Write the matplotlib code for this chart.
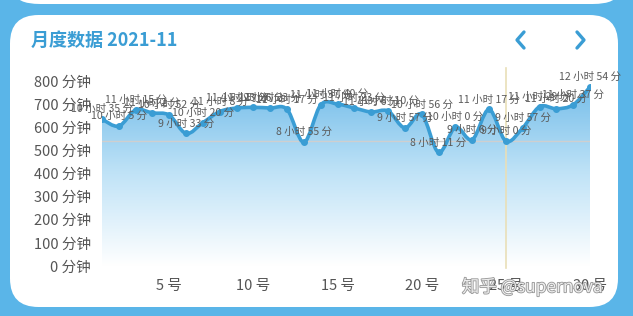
import matplotlib
matplotlib.use("Agg")
import matplotlib.pyplot as plt
import numpy as np
from matplotlib.patches import FancyBboxPatch, PathPatch
from matplotlib.path import Path
from matplotlib.lines import Line2D
from matplotlib.colors import LinearSegmentedColormap
import matplotlib.patheffects as pe

plt.rcParams['font.family'] = ['Noto Sans CJK SC', 'DejaVu Sans']

# --------------------------------------------------
# Data (minutes per day, November 2021)
# --------------------------------------------------
days = list(range(1, 31))
minutes = [635, 605, 675, 662, 652, 573, 620, 668, 683, 686,
           683, 677, 535, 697, 700, 683, 666, 670, 597, 656,
           491, 600, 546, 677, 540, 597, 689, 680, 697, 774]
y_ticks = [0, 100, 200, 300, 400, 500, 600, 700, 800]
x_ticks = [5, 10, 15, 20, 25, 30]
selected_day = 25
title = "月度数据 2021-11"

blue = '#3a9dd4'
outer = '#5ab5e8'
W, H = 633, 316

fig = plt.figure(figsize=(W / 100, H / 100), dpi=100)
fig.patch.set_facecolor(outer)

def fx(px):
    return px / W

def fy(py):
    return 1 - py / H

# cards
card_top = FancyBboxPatch((fx(15), fy(4)), fx(603), 0.2,
                          boxstyle="round,pad=0,rounding_size=0.04",
                          transform=fig.transFigure, facecolor='white',
                          edgecolor='none', zorder=-2)
fig.patches.append(card_top)
card = FancyBboxPatch((fx(10), fy(307)), fx(608), fy(15) - fy(307),
                      boxstyle="round,pad=0,rounding_size=0.045",
                      transform=fig.transFigure, facecolor='white',
                      edgecolor='none', zorder=-2, mutation_aspect=W / H)
fig.patches.append(card)

# title + arrows
fig.text(fx(31), fy(40), title, color=blue, fontsize=13,
         fontweight='bold', ha='left', va='center')
for xs in ([524, 517, 524], [577, 584, 577]):
    fig.add_artist(Line2D([fx(v) for v in xs], [fy(32), fy(40), fy(48)],
                          color=blue, lw=2.4, solid_capstyle='round',
                          solid_joinstyle='round', transform=fig.transFigure))

# --------------------------------------------------
# Chart axes
# --------------------------------------------------
ax = fig.add_axes([fx(102), fy(266), fx(590) - fx(102), fy(81) - fy(266)])
ax.set_facecolor('none')
ax.set_xlim(1, 30)
ax.set_ylim(0, 800)
for s in ax.spines.values():
    s.set_visible(False)

ax.set_yticks(y_ticks)
ax.set_yticklabels([f"{v} 分钟" for v in y_ticks])
ax.set_xticks(x_ticks)
ax.set_xticklabels([f"{d} 号" for d in x_ticks])
ax.tick_params(length=0, labelsize=10.5, colors='#555555')
ax.tick_params(axis='y', pad=8)
ax.tick_params(axis='x', pad=9)

# smooth bezier path through the points
x = np.array(days, dtype=float)
y = np.array(minutes, dtype=float)
n = len(x)
verts = [(x[0], y[0])]
codes = [Path.MOVETO]
s = 1 / 6
for i in range(n - 1):
    p0 = np.array([x[max(i - 1, 0)], y[max(i - 1, 0)]])
    p1 = np.array([x[i], y[i]])
    p2 = np.array([x[i + 1], y[i + 1]])
    p3 = np.array([x[min(i + 2, n - 1)], y[min(i + 2, n - 1)]])
    c1 = p1 + (p2 - p0) * s
    c2 = p2 - (p3 - p1) * s
    verts += [tuple(c1), tuple(c2), tuple(p2)]
    codes += [Path.CURVE4] * 3

line_path = Path(verts, codes)
fill_path = Path(verts + [(x[-1], 0), (x[0], 0), (x[0], y[0])],
                 codes + [Path.LINETO, Path.LINETO, Path.CLOSEPOLY])

clip = PathPatch(fill_path, facecolor='none', edgecolor='none',
                 transform=ax.transData)
ax.add_patch(clip)
cmap = LinearSegmentedColormap.from_list('g', ['#ffffff', '#c0e3f7', '#72bce9'])
grad = np.linspace(0, 1, 256).reshape(-1, 1)
im = ax.imshow(grad, extent=(1, 30, 0, 800), origin='lower', aspect='auto',
               cmap=cmap, zorder=1)
im.set_clip_path(clip)

# cursor lines
ax.axhline(minutes[selected_day - 1], color='#cfcfcf', lw=1, zorder=2)
ax.axvline(selected_day, ymin=-0.01, ymax=1.07, color='#e9dfb8', lw=1.2,
           zorder=2, clip_on=False)

ax.add_patch(PathPatch(line_path, facecolor='none', edgecolor=blue, lw=2.6,
                       zorder=3, capstyle='round', joinstyle='round'))
ax.plot(days, minutes, 'o', color=blue, markersize=4, zorder=4)

for d, m in zip(days, minutes):
    ax.annotate(f"{m // 60} 小时 {m % 60} 分", (d, m), xytext=(0, 10),
                textcoords='offset pixels', ha='center', va='center',
                fontsize=7.6, color='#5a5a5a', zorder=5, annotation_clip=False)

# watermark
fig.text(fx(462), fy(287), "知乎 @supernova", fontsize=12.5, color='#f6f6f6',
         ha='left', va='center', alpha=0.9,
         path_effects=[pe.withStroke(linewidth=1.2, foreground='#8a8a8a')])

fig.savefig("out.png", dpi=100, facecolor=fig.get_facecolor())
